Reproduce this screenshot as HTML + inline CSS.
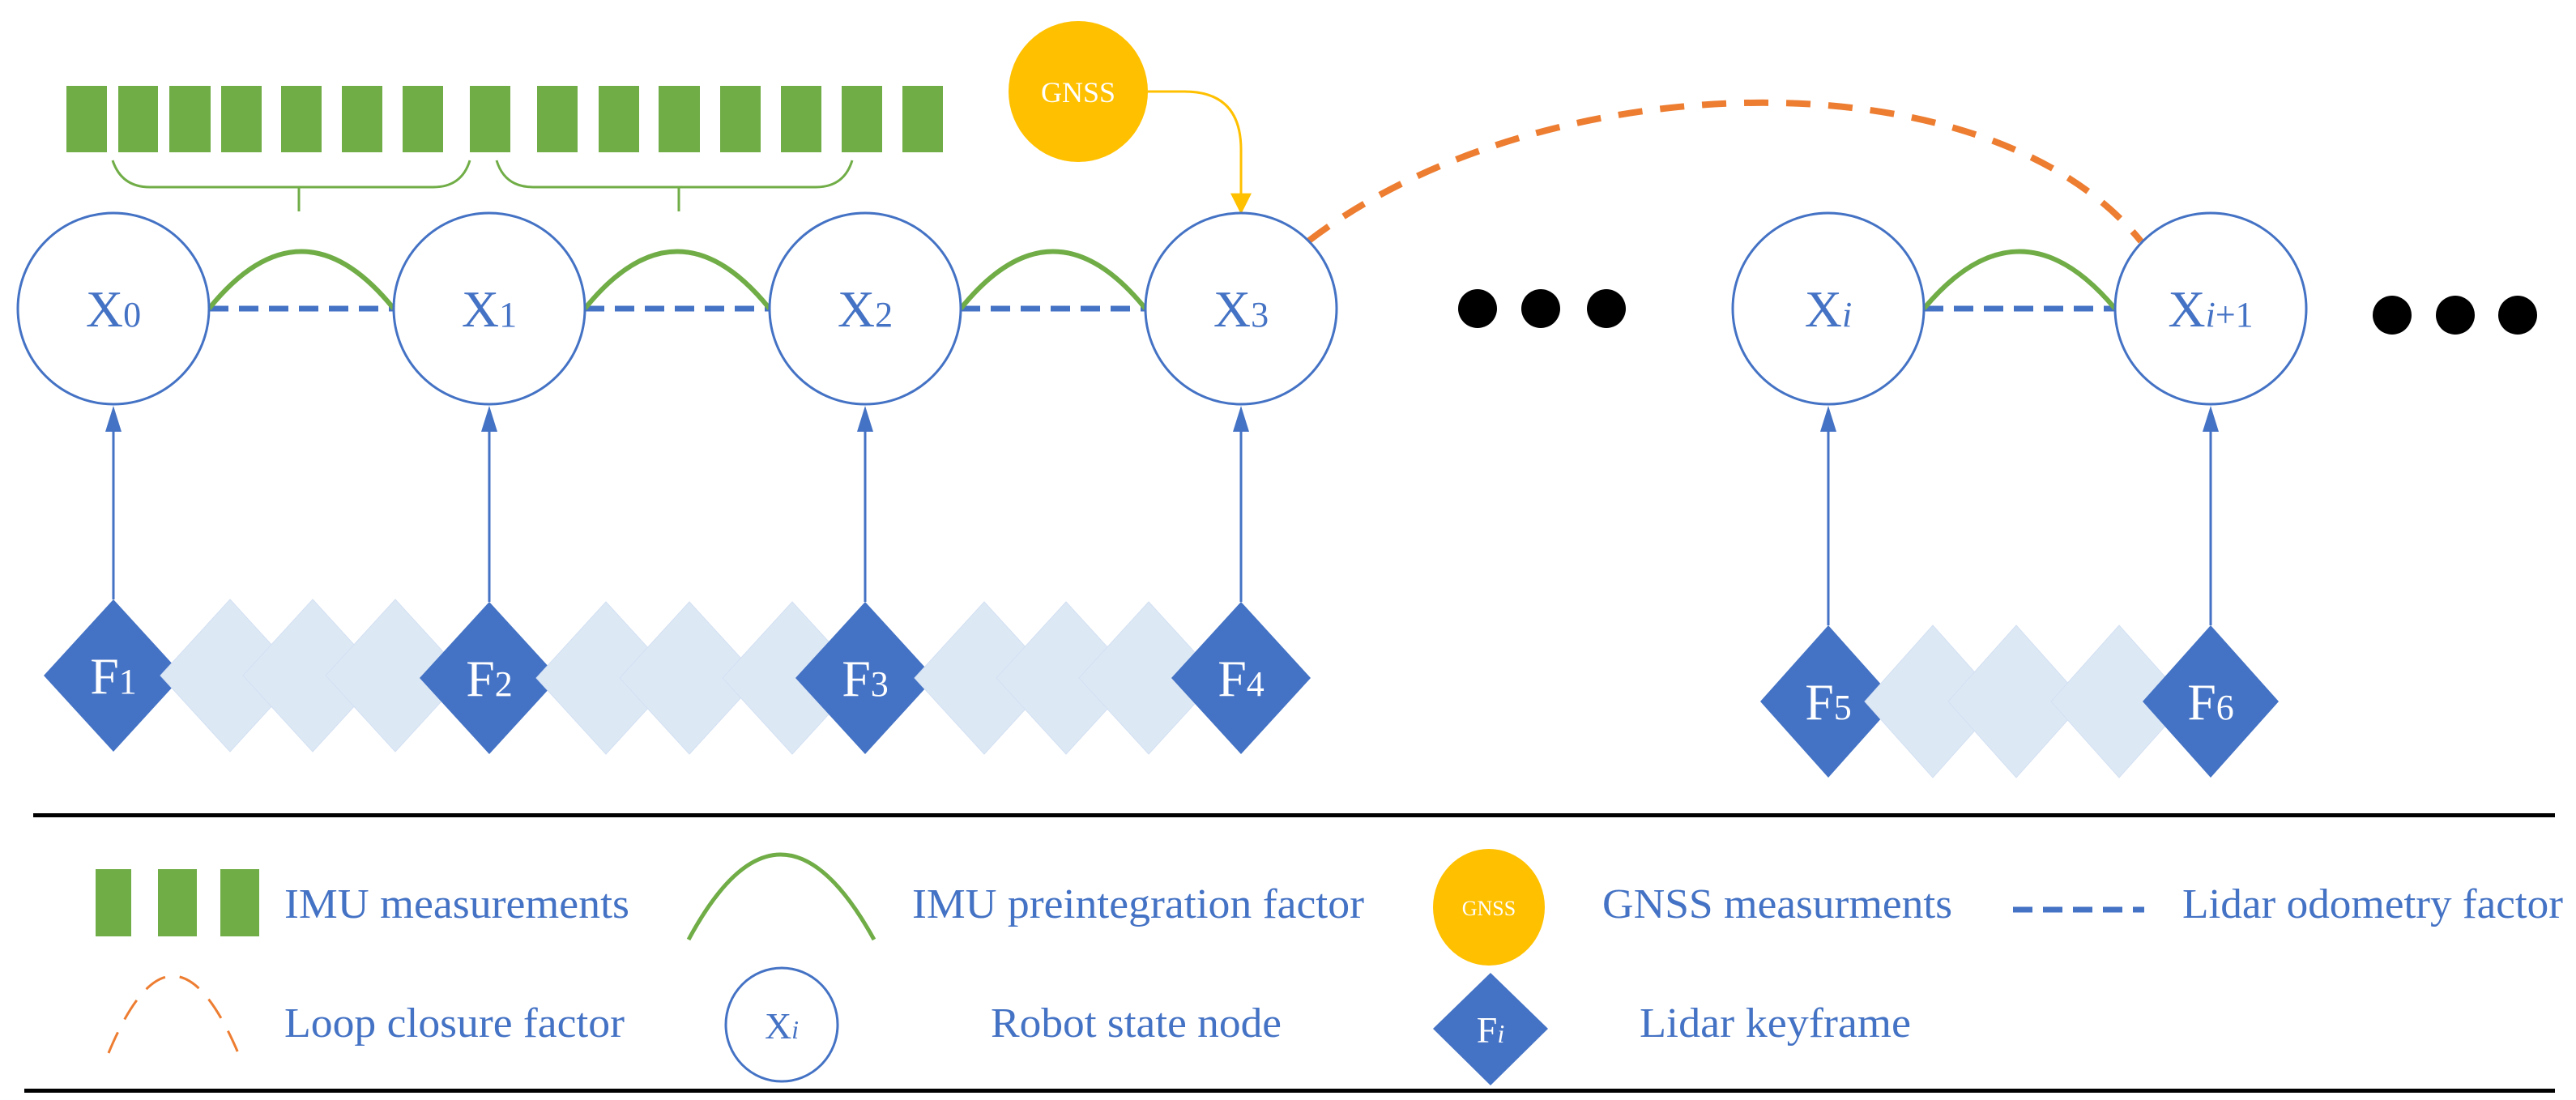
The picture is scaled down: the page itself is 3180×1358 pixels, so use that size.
<!DOCTYPE html>
<html><head><meta charset="utf-8"><style>
html,body{margin:0;padding:0;background:#fff;}
svg{display:block;}
svg, svg text, svg tspan{font-family:"Liberation Serif","Times New Roman",serif;}
</style></head><body>
<svg width="3180" height="1358" viewBox="0 0 3180 1358" xmlns="http://www.w3.org/2000/svg" font-family="'Liberation Serif', 'Times New Roman', serif">
<defs>
<marker id="ay" viewBox="0 0 10 10" refX="9" refY="5" markerWidth="30" markerHeight="26" orient="auto" markerUnits="userSpaceOnUse"><path d="M0,0 L10,5 L0,10 z" fill="#ffc000"/></marker>
</defs>

<g fill="#70ad47">
<rect x="82" y="106" width="50" height="82"/><rect x="146" y="106" width="49" height="82"/><rect x="209" y="106" width="51" height="82"/><rect x="273" y="106" width="50" height="82"/><rect x="347" y="106" width="50" height="82"/><rect x="422" y="106" width="50" height="82"/><rect x="497" y="106" width="50" height="82"/><rect x="580" y="106" width="50" height="82"/><rect x="663" y="106" width="50" height="82"/><rect x="739" y="106" width="50" height="82"/><rect x="813" y="106" width="51" height="82"/><rect x="889" y="106" width="50" height="82"/><rect x="964" y="106" width="50" height="82"/><rect x="1039" y="106" width="50" height="82"/><rect x="1114" y="106" width="50" height="82"/>
</g>
<g fill="none" stroke="#70ad47" stroke-width="3">
<path d="M139,198 Q150,231 185,231 L535,231 Q570,231 580,198"/>
<path d="M369,231 L369,261"/>
<path d="M613,198 Q623,231 658,231 L1007,231 Q1042,231 1052,198"/>
<path d="M838,231 L838,261"/>
</g>

<ellipse cx="1331" cy="113" rx="86" ry="87" fill="#ffc000"/>
<text x="1331" y="126" font-size="36" fill="#fff" text-anchor="middle" font-family="'Liberation Serif', serif">GNSS</text>
<path d="M1417,113 L1462,113 Q1532,113 1532,185 L1532,262" fill="none" stroke="#ffc000" stroke-width="3" marker-end="url(#ay)"/>

<path d="M1616,297 C1900,80 2450,60 2643,298" fill="none" stroke="#ed7d31" stroke-width="8" stroke-dasharray="30,22"/>

<g fill="none">
<g stroke="#4472c4" stroke-width="7" stroke-dasharray="24,13">
<path d="M258,381 L486,381"/><path d="M722,381 L950,381"/><path d="M1186,381 L1414,381"/><path d="M2375,381 L2611,381"/>
</g>
<g stroke="#70ad47" stroke-width="6">
<path d="M258,381 Q372,240 486,381"/><path d="M722,381 Q836,240 950,381"/><path d="M1186,381 Q1300,240 1414,381"/><path d="M2375,381 Q2493,240 2611,381"/>
</g>
</g>

<g fill="#fff" stroke="#4472c4" stroke-width="3">
<ellipse cx="140" cy="381" rx="118" ry="118"/>
<ellipse cx="604" cy="381" rx="118" ry="118"/>
<ellipse cx="1068" cy="381" rx="118" ry="118"/>
<ellipse cx="1532" cy="381" rx="118" ry="118"/>
<ellipse cx="2257" cy="381" rx="118" ry="118"/>
<ellipse cx="2729" cy="381" rx="118" ry="118"/>
</g>
<g fill="#4472c4" font-size="64" text-anchor="middle" font-family="'Liberation Serif', serif">
<text x="140" y="403">X<tspan font-size="44">0</tspan></text>
<text x="604" y="403">X<tspan font-size="44">1</tspan></text>
<text x="1068" y="403">X<tspan font-size="44">2</tspan></text>
<text x="1532" y="403">X<tspan font-size="44">3</tspan></text>
<text x="2257" y="403">X<tspan font-size="44" font-style="italic">i</tspan></text>
<text x="2729" y="403">X<tspan font-size="44"><tspan font-style="italic">i</tspan>+1</tspan></text>
</g>

<g fill="#000">
<ellipse cx="1824" cy="381" rx="24" ry="24"/><ellipse cx="1902" cy="381" rx="24" ry="24"/><ellipse cx="1983" cy="381" rx="24" ry="24"/>
<ellipse cx="2953" cy="389" rx="24" ry="24"/><ellipse cx="3031" cy="389" rx="24" ry="24"/><ellipse cx="3108" cy="389" rx="24" ry="24"/>
</g>

<g stroke="#4472c4" stroke-width="3" fill="none">
<path d="M140,740 L140,520"/><path d="M604,743 L604,520"/><path d="M1068,743 L1068,520"/><path d="M1532,743 L1532,520"/>
<path d="M2257,772 L2257,520"/><path d="M2729,772 L2729,520"/>
</g>
<g fill="#4472c4">
<path d="M130,533 L140,501 L150,533 z"/><path d="M594,533 L604,501 L614,533 z"/><path d="M1058,533 L1068,501 L1078,533 z"/><path d="M1522,533 L1532,501 L1542,533 z"/><path d="M2247,533 L2257,501 L2267,533 z"/><path d="M2719,533 L2729,501 L2739,533 z"/>
</g>

<g>
<path d="M140,740 L226,834 L140,928 L54,834 z" fill="#4472c4"/>
<g fill="#dde8f5" stroke="#d3e0f2" stroke-width="1">
<path d="M284,740 L370,834 L284,928 L198,834 z"/>
<path d="M386,740 L472,834 L386,928 L300,834 z"/>
<path d="M488,740 L574,834 L488,928 L402,834 z"/>
</g>
<path d="M604,743 L690,837 L604,931 L518,837 z" fill="#4472c4"/>
<g fill="#dde8f5" stroke="#d3e0f2" stroke-width="1">
<path d="M748,743 L834,837 L748,931 L662,837 z"/>
<path d="M851,743 L937,837 L851,931 L765,837 z"/>
<path d="M978,743 L1064,837 L978,931 L892,837 z"/>
</g>
<path d="M1068,743 L1154,837 L1068,931 L982,837 z" fill="#4472c4"/>
<g fill="#dde8f5" stroke="#d3e0f2" stroke-width="1">
<path d="M1215,743 L1301,837 L1215,931 L1129,837 z"/>
<path d="M1316,743 L1402,837 L1316,931 L1230,837 z"/>
<path d="M1418,743 L1504,837 L1418,931 L1332,837 z"/>
</g>
<path d="M1532,743 L1618,837 L1532,931 L1446,837 z" fill="#4472c4"/>

<path d="M2257,772 L2341,866 L2257,960 L2173,866 z" fill="#4472c4"/>
<g fill="#dde8f5" stroke="#d3e0f2" stroke-width="1">
<path d="M2386,772 L2470,866 L2386,960 L2302,866 z"/>
<path d="M2489,772 L2573,866 L2489,960 L2405,866 z"/>
<path d="M2616,772 L2700,866 L2616,960 L2532,866 z"/>
</g>
<path d="M2729,772 L2813,866 L2729,960 L2645,866 z" fill="#4472c4"/>
</g>
<g fill="#fff" font-size="64" text-anchor="middle" font-family="'Liberation Serif', serif">
<text x="140" y="856">F<tspan font-size="44">1</tspan></text>
<text x="604" y="859">F<tspan font-size="44">2</tspan></text>
<text x="1068" y="859">F<tspan font-size="44">3</tspan></text>
<text x="1532" y="859">F<tspan font-size="44">4</tspan></text>
<text x="2257" y="888">F<tspan font-size="44">5</tspan></text>
<text x="2729" y="888">F<tspan font-size="44">6</tspan></text>
</g>

<rect x="41" y="1004" width="3113" height="5" fill="#000"/>
<rect x="30" y="1344" width="3124" height="5" fill="#000"/>

<g fill="#70ad47">
<rect x="118" y="1073" width="44" height="83"/><rect x="195" y="1073" width="48" height="83"/><rect x="272" y="1073" width="48" height="83"/>
</g>
<path d="M850,1160 Q963,950 1079,1160" fill="none" stroke="#70ad47" stroke-width="5"/>
<ellipse cx="1838" cy="1120" rx="69" ry="72" fill="#ffc000"/>
<text x="1838" y="1130" font-size="26" fill="#fff" text-anchor="middle" font-family="'Liberation Serif', serif">GNSS</text>
<path d="M2485,1123 L2647,1123" stroke="#4472c4" stroke-width="7" stroke-dasharray="24,13"/>
<path d="M134,1300 Q213,1110 294,1300" fill="none" stroke="#ed7d31" stroke-width="3" stroke-dasharray="28,18"/>
<ellipse cx="965" cy="1265" rx="69" ry="70" fill="#fff" stroke="#4472c4" stroke-width="3"/>
<text x="965" y="1282" font-size="46" fill="#4472c4" text-anchor="middle" font-family="'Liberation Serif', serif">X<tspan font-size="32" font-style="italic">i</tspan></text>
<path d="M1840,1201 L1911,1270 L1840,1340 L1769,1270 z" fill="#4472c4"/>
<text x="1840" y="1287" font-size="46" fill="#fff" text-anchor="middle" font-family="'Liberation Serif', serif">F<tspan font-size="32" font-style="italic">i</tspan></text>

<g fill="#4472c4" font-size="52" font-family="'Liberation Serif', serif">
<text x="351" y="1133" textLength="426" lengthAdjust="spacingAndGlyphs">IMU measurements</text>
<text x="1126" y="1133" textLength="558" lengthAdjust="spacingAndGlyphs">IMU preintegration factor</text>
<text x="1978" y="1133" textLength="432" lengthAdjust="spacingAndGlyphs">GNSS measurments</text>
<text x="2694" y="1133" textLength="470" lengthAdjust="spacingAndGlyphs">Lidar odometry factor</text>
<text x="351" y="1280" textLength="420" lengthAdjust="spacingAndGlyphs">Loop closure factor</text>
<text x="1223" y="1280" textLength="359" lengthAdjust="spacingAndGlyphs">Robot state node</text>
<text x="2024" y="1280" textLength="335" lengthAdjust="spacingAndGlyphs">Lidar keyframe</text>
</g>
</svg>
</body></html>
